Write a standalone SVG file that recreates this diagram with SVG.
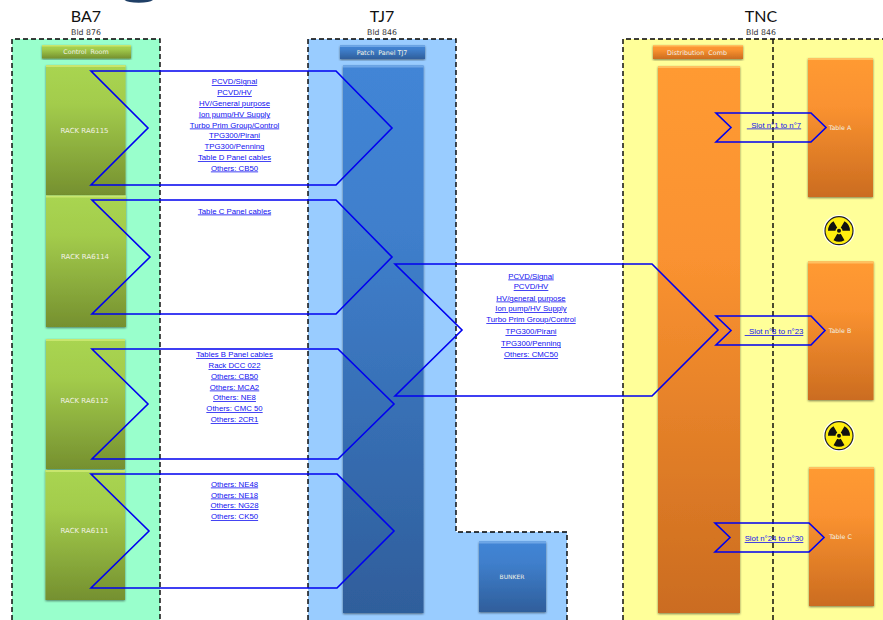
<svg xmlns="http://www.w3.org/2000/svg" xmlns:xlink="http://www.w3.org/1999/xlink" width="883" height="620" viewBox="0 0 883 620">
<style>
.zone{stroke:none}
.dash{fill:none;stroke:#000;stroke-width:1.4;stroke-dasharray:5 3}
.title{font-family:Lato,"Liberation Sans",sans-serif;font-size:16px;fill:#111;text-anchor:middle}
.sub{font-family:"DejaVu Sans",sans-serif;font-size:7.8px;fill:#333;text-anchor:middle}
.lab{font-family:"DejaVu Sans",sans-serif;font-size:6.4px;fill:#f2f2e6;text-anchor:middle}
.rk{font-size:7px}
.tb{font-size:6.3px}
.link{font-family:"Liberation Sans",sans-serif;font-size:7.8px;fill:#1010f0;text-anchor:middle;text-decoration:underline}
.arrow{fill:none;stroke:#0000f0;stroke-width:1.6;stroke-linejoin:miter}
.g{fill:url(#gGreen);filter:url(#sh)}
.b{fill:url(#gBlue);filter:url(#sh)}
.o{fill:url(#gOrange);filter:url(#sh)}
.gt{fill:#c8e66e}
.bt{fill:#6ea6e6}
.ot{fill:#ffc060}
</style>
<defs>
<filter id="sh" x="-10%" y="-10%" width="120%" height="120%"><feDropShadow dx="0" dy="1" stdDeviation="1" flood-color="#000" flood-opacity="0.5"/></filter>
<linearGradient id="gGreen" x1="0" y1="0" x2="0" y2="1"><stop offset="0" stop-color="#a9d551"/><stop offset="0.3" stop-color="#a3cc4c"/><stop offset="1" stop-color="#75902f"/></linearGradient>
<linearGradient id="gBlue" x1="0" y1="0" x2="0" y2="1"><stop offset="0" stop-color="#4285d6"/><stop offset="0.3" stop-color="#3f7fcc"/><stop offset="1" stop-color="#2f5e9b"/></linearGradient>
<linearGradient id="gOrange" x1="0" y1="0" x2="0" y2="1"><stop offset="0" stop-color="#ff9a33"/><stop offset="0.35" stop-color="#fa9230"/><stop offset="1" stop-color="#cb6c20"/></linearGradient>
<path id="blade" d="M1.75 3.03L5.5 9.53A11 11 0 0 1-5.5 9.53L-1.75 3.03A3.5 3.5 0 0 0 1.75 3.03Z" fill="#111"/>
<g id="rad">
<circle r="15.8" fill="#fff"/><circle r="14" fill="#ffee10" stroke="#222" stroke-width="1.2"/>
<circle r="2" fill="#111"/>
<use href="#blade"/><use href="#blade" transform="rotate(120)"/><use href="#blade" transform="rotate(240)"/>
</g>
</defs>
<rect width="883" height="620" fill="#fff"/>
<path d="M124.500 0A15 4 0 0 0 153 0Z" fill="#1f3f66"/>

<g id="zones">
<rect class="zone" x="12" y="39" width="148" height="581" fill="#99ffcc"/>
<path class="zone" d="M308 39H456V532H567V620H308Z" fill="#99ccff"/>
<rect class="zone" x="623" y="39" width="260" height="581" fill="#ffff99"/>
<path class="dash" d="M12 620V39H160V620"/>
<path class="dash" d="M308 620V39H456V532H567V620"/>
<path class="dash" d="M623 620V39H883M773 39V620"/>
</g>

<g id="ba7-title"><text class="title" x="86" y="22">BA7</text><text class="sub" x="86" y="35">Bld 876</text></g>
<g id="tj7-title"><text class="title" x="382" y="22">TJ7</text><text class="sub" x="382" y="35">Bld 846</text></g>
<g id="tnc-title"><text class="title" x="761" y="22">TNC</text><text class="sub" x="761" y="35">Bld 846</text></g>

<g id="control-room"><rect class="g" x="42" y="45" width="89" height="13.500"/><rect class="gt" x="42" y="45" width="89" height="1.500"/><text class="lab" x="86" y="54">Control&#160;&#160;Room</text></g>
<g id="rack-ra6115"><rect class="g" x="46" y="65" width="79.500" height="130"/><rect class="gt" x="46" y="65" width="79.500" height="2"/><text class="lab rk" x="84.500" y="133">RACK RA6115</text></g>
<g id="rack-ra6114"><rect class="g" x="46" y="195.500" width="80" height="131.500"/><rect class="gt" x="46" y="195.500" width="80" height="2"/><text class="lab rk" x="85" y="259">RACK RA6114</text></g>
<g id="rack-ra6112"><rect class="g" x="46" y="339" width="79" height="130"/><rect class="gt" x="46" y="339" width="79" height="2"/><text class="lab rk" x="84.500" y="402.500">RACK RA6112</text></g>
<g id="rack-ra6111"><rect class="g" x="45.500" y="470" width="79.500" height="130"/><rect class="gt" x="45.500" y="470" width="79.500" height="2"/><text class="lab rk" x="84.500" y="533">RACK RA6111</text></g>

<g id="patch-panel"><rect class="b" x="340" y="45.500" width="85" height="13.500"/><rect class="bt" x="340" y="45.500" width="85" height="1.500"/><text class="lab" x="382" y="54.500">Patch&#160;&#160;Panel TJ7</text></g>
<g id="tj7-main"><rect class="b" x="343" y="65.500" width="80.500" height="547.500"/><rect class="bt" x="343" y="65.500" width="80.500" height="2"/></g>
<g id="bunker"><rect class="b" x="479" y="541.500" width="67" height="70.500"/><rect class="bt" x="479" y="541.500" width="67" height="2"/><text class="lab" x="512" y="579" style="font-size:6px">BUNKER</text></g>

<g id="distribution-comb"><rect class="o" x="653" y="45" width="90" height="14"/><rect class="ot" x="653" y="45" width="90" height="1.500"/><text class="lab" x="697" y="54.500">Distribution&#160;&#160;Comb</text></g>
<g id="tnc-main"><rect class="o" x="658" y="66" width="82" height="547"/><rect class="ot" x="658" y="66" width="82" height="2"/></g>
<g id="table-a"><rect class="o" x="808" y="58" width="65" height="139"/><rect class="ot" x="808" y="58" width="65" height="2"/><text class="lab tb" x="840" y="130">Table A</text></g>
<g id="table-b"><rect class="o" x="808" y="261.500" width="65.500" height="138.500"/><rect class="ot" x="808" y="261.500" width="65.500" height="2"/><text class="lab tb" x="840" y="333">Table B</text></g>
<g id="table-c"><rect class="o" x="809" y="467" width="65" height="139"/><rect class="ot" x="809" y="467" width="65" height="2"/><text class="lab tb" x="840.500" y="539">Table C</text></g>
<g id="radiation-1"><use href="#rad" x="839" y="230.700"/></g>
<g id="radiation-2"><use href="#rad" x="839" y="435.700"/></g>

<g id="connectors">
<path class="arrow" d="M91 71H336L392 128L336 185H91L148 128Z"/>
<path class="arrow" d="M92 200H336L392 257L336 314H92L150 257Z"/>
<path class="arrow" d="M92 349H338L394 404L338 459H92L148 404Z"/>
<path class="arrow" d="M91 474H337L394 531L337 588H91L149 531Z"/>
<path class="arrow" d="M395 264H652L718 330L652 396H395L462 330Z"/>
<path class="arrow" d="M716 113H811L826 127.500L811 142H716L731 127.500Z"/>
<path class="arrow" d="M716 316H811L825 330.500L811 345H716L731 330.500Z"/>
<path class="arrow" d="M715 523H809L824 537.500L809 552H715L730 537.500Z"/>
<g id="labels-1">
<text class="link" x="234.500" y="84">PCVD/Signal</text>
<text class="link" x="234.500" y="95">PCVD/HV</text>
<text class="link" x="234.500" y="106">HV/General purpose</text>
<text class="link" x="234.500" y="116.500">Ion pump/HV Supply</text>
<text class="link" x="234.500" y="127.500">Turbo Prim Group/Control</text>
<text class="link" x="234.500" y="138">TPG300/Pirani</text>
<text class="link" x="234.500" y="149">TPG300/Penning</text>
<text class="link" x="234.500" y="160">Table D Panel cables</text>
<text class="link" x="234.500" y="170.500">Others: CB50</text>
</g>
<text class="link" x="234.500" y="213.500">Table C Panel cables</text>
<g id="labels-3">
<text class="link" x="234.500" y="357">Tables B Panel cables</text>
<text class="link" x="234.500" y="368">Rack DCC 022</text>
<text class="link" x="234.500" y="378.500">Others: CB50</text>
<text class="link" x="234.500" y="389.500">Others: MCA2</text>
<text class="link" x="234.500" y="400">Others: NE8</text>
<text class="link" x="234.500" y="411">Others: CMC 50</text>
<text class="link" x="234.500" y="422">Others: 2CR1</text>
</g>
<g id="labels-4">
<text class="link" x="234.500" y="486.500">Others: NE48</text>
<text class="link" x="234.500" y="497.500">Others: NE18</text>
<text class="link" x="234.500" y="508">Others: NG28</text>
<text class="link" x="234.500" y="519">Others: CK50</text>
</g>
<g id="labels-5">
<text class="link" x="531" y="278.500">PCVD/Signal</text>
<text class="link" x="531" y="289">PCVD/HV</text>
<text class="link" x="531" y="300.500">HV/general purpose</text>
<text class="link" x="531" y="311">Ion pump/HV Supply</text>
<text class="link" x="531" y="322">Turbo Prim Group/Control</text>
<text class="link" x="531" y="334">TPG300/Pirani</text>
<text class="link" x="531" y="346">TPG300/Penning</text>
<text class="link" x="531" y="357">Others: CMC50</text>
</g>
<text class="link" x="774" y="127.500">&#160;&#160;Slot n°1 to n°7</text>
<text class="link" x="774" y="334">&#160;&#160;Slot n°8 to n°23</text>
<text class="link" x="774" y="541">Slot n°24 to n°30</text>
</g>
</svg>
